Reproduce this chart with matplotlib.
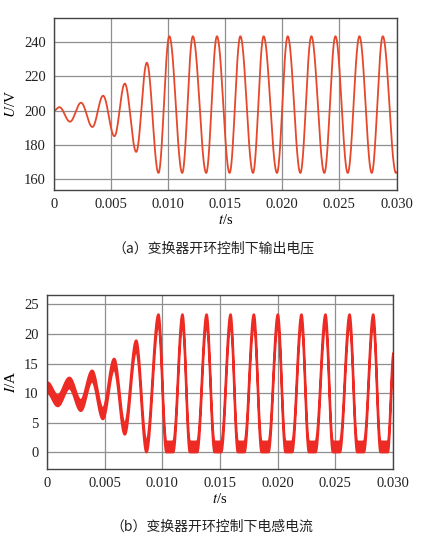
import numpy as np
import matplotlib
matplotlib.use("Agg")
import matplotlib.pyplot as plt

plt.rcParams['font.family'] = ['Liberation Serif', 'DejaVu Serif']
plt.rcParams['mathtext.fontset'] = 'stix'

# 输出电压: 极值点 (时间 s, 电压 V)
u_t = [0, 0.00047, 0.0014, 0.00237, 0.00336, 0.0043, 0.00529, 0.0062, 0.0072,
       0.00813, 0.00915, 0.0101, 0.01123, 0.01216, 0.01333, 0.01427, 0.01538,
       0.01632, 0.01743, 0.01836, 0.01953, 0.02047, 0.02158, 0.02254, 0.02368,
       0.02465, 0.02573, 0.02675, 0.02783, 0.0288, 0.02995, 0.030]
u_v = [200, 202, 193.5, 204.6, 190.4, 208.7, 185, 215.8, 175.8,
       228, 163.5, 243.5, 163.5, 243.5, 163.5, 243.5, 163.5,
       243.5, 163.5, 243.5, 163.5, 243.5, 163.5, 243.5, 163.5,
       243.5, 163.5, 243.5, 163.5, 243.5, 163.5, 163.8]

# 电感电流: 纹波带中心的极值点 (时间 s, 电流 A)
i_t = [0, 0.00089, 0.0019, 0.00289, 0.00387, 0.0048, 0.00578, 0.0067, 0.00769,
       0.00858, 0.00962, 0.0103, 0.0109, 0.0117, 0.01234, 0.01298, 0.01379,
       0.01448, 0.01506, 0.01587, 0.0165, 0.01708, 0.01789, 0.01856, 0.01916,
       0.01997, 0.02063, 0.02121, 0.02202, 0.02266, 0.02324, 0.0241, 0.02474,
       0.02535, 0.02619, 0.02685, 0.02743, 0.02824, 0.02887, 0.02951, 0.030]
i_v = [11.0, 8.8, 11.8, 8.0, 13.0, 6.6, 15.0, 4.0, 18.1,
       1.0, 22.5, 1.0, 1.0, 22.5, 1.0, 1.0, 22.5,
       1.0, 1.0, 22.5, 1.0, 1.0, 22.5, 1.0, 1.0,
       22.5, 1.0, 1.0, 22.5, 1.0, 1.0, 22.5, 1.0,
       1.0, 22.5, 1.0, 1.0, 22.5, 1.0, 1.0, 16.0]
ripple = 0.9

xticks = [0, 0.005, 0.010, 0.015, 0.020, 0.025, 0.030]
xticklabels = ['0', '0.005', '0.010', '0.015', '0.020', '0.025', '0.030']


def wave(kt, kv, n=40):
    # 相邻极值点之间用半个余弦连接
    ts, vs = [], []
    for k in range(len(kt) - 1):
        s = np.linspace(0, 1, n, endpoint=False)
        w = (1 - np.cos(np.pi * s)) / 2
        ts.append(kt[k] + (kt[k+1] - kt[k]) * s)
        vs.append(kv[k] + (kv[k+1] - kv[k]) * w)
    ts.append([kt[-1]])
    vs.append([kv[-1]])
    return np.concatenate(ts), np.concatenate(vs)


def style(ax):
    ax.set_xlim(0, 0.030)
    ax.set_xticks(xticks)
    ax.set_xticklabels(xticklabels)
    ax.grid(True, color='#8f8f8f', lw=0.9)
    ax.set_axisbelow(True)
    ax.tick_params(length=0, labelsize=10.5, pad=6, colors='#222222')
    for sp in ax.spines.values():
        sp.set_color('#444444')
        sp.set_linewidth(1.0)


fig = plt.figure(figsize=(4.22, 5.50), dpi=100)

ax1 = fig.add_axes([0.128, 0.6545, 0.8116, 0.3122])
t, u = wave(u_t, u_v)
ax1.plot(t, u, color='#E5482A', lw=1.3)
ax1.set_ylim(153.5, 254)
ax1.set_yticks([160, 180, 200, 220, 240])
style(ax1)
ax1.set_xlabel('$t$/s', fontsize=10.5, labelpad=1)
ax1.set_ylabel('$U$/V', fontsize=11, labelpad=4)

ax2 = fig.add_axes([0.1114, 0.1473, 0.82, 0.3164])
t, i = wave(i_t, i_v)
ax2.fill_between(t, np.maximum(i - ripple, 0), i + ripple, color='#EE2A24', lw=1.6, edgecolor='#EE2A24')
ax2.set_ylim(-2.8, 26.6)
ax2.set_yticks([0, 5, 10, 15, 20, 25])
style(ax2)
ax2.set_xlabel('$t$/s', fontsize=10.5, labelpad=1)
ax2.set_ylabel('$I$/A', fontsize=11, labelpad=4)

cjk = ['Noto Sans CJK SC', 'DejaVu Sans']
fig.text(0.505, 1 - 248 / 550, '（a）变换器开环控制下输出电压', ha='center', va='center',
         fontsize=10, family=cjk, color='#222222')
fig.text(0.503, 1 - 527 / 550, '（b）变换器开环控制下电感电流', ha='center', va='center',
         fontsize=10, family=cjk, color='#222222')

fig.savefig('out.png', dpi=100)
